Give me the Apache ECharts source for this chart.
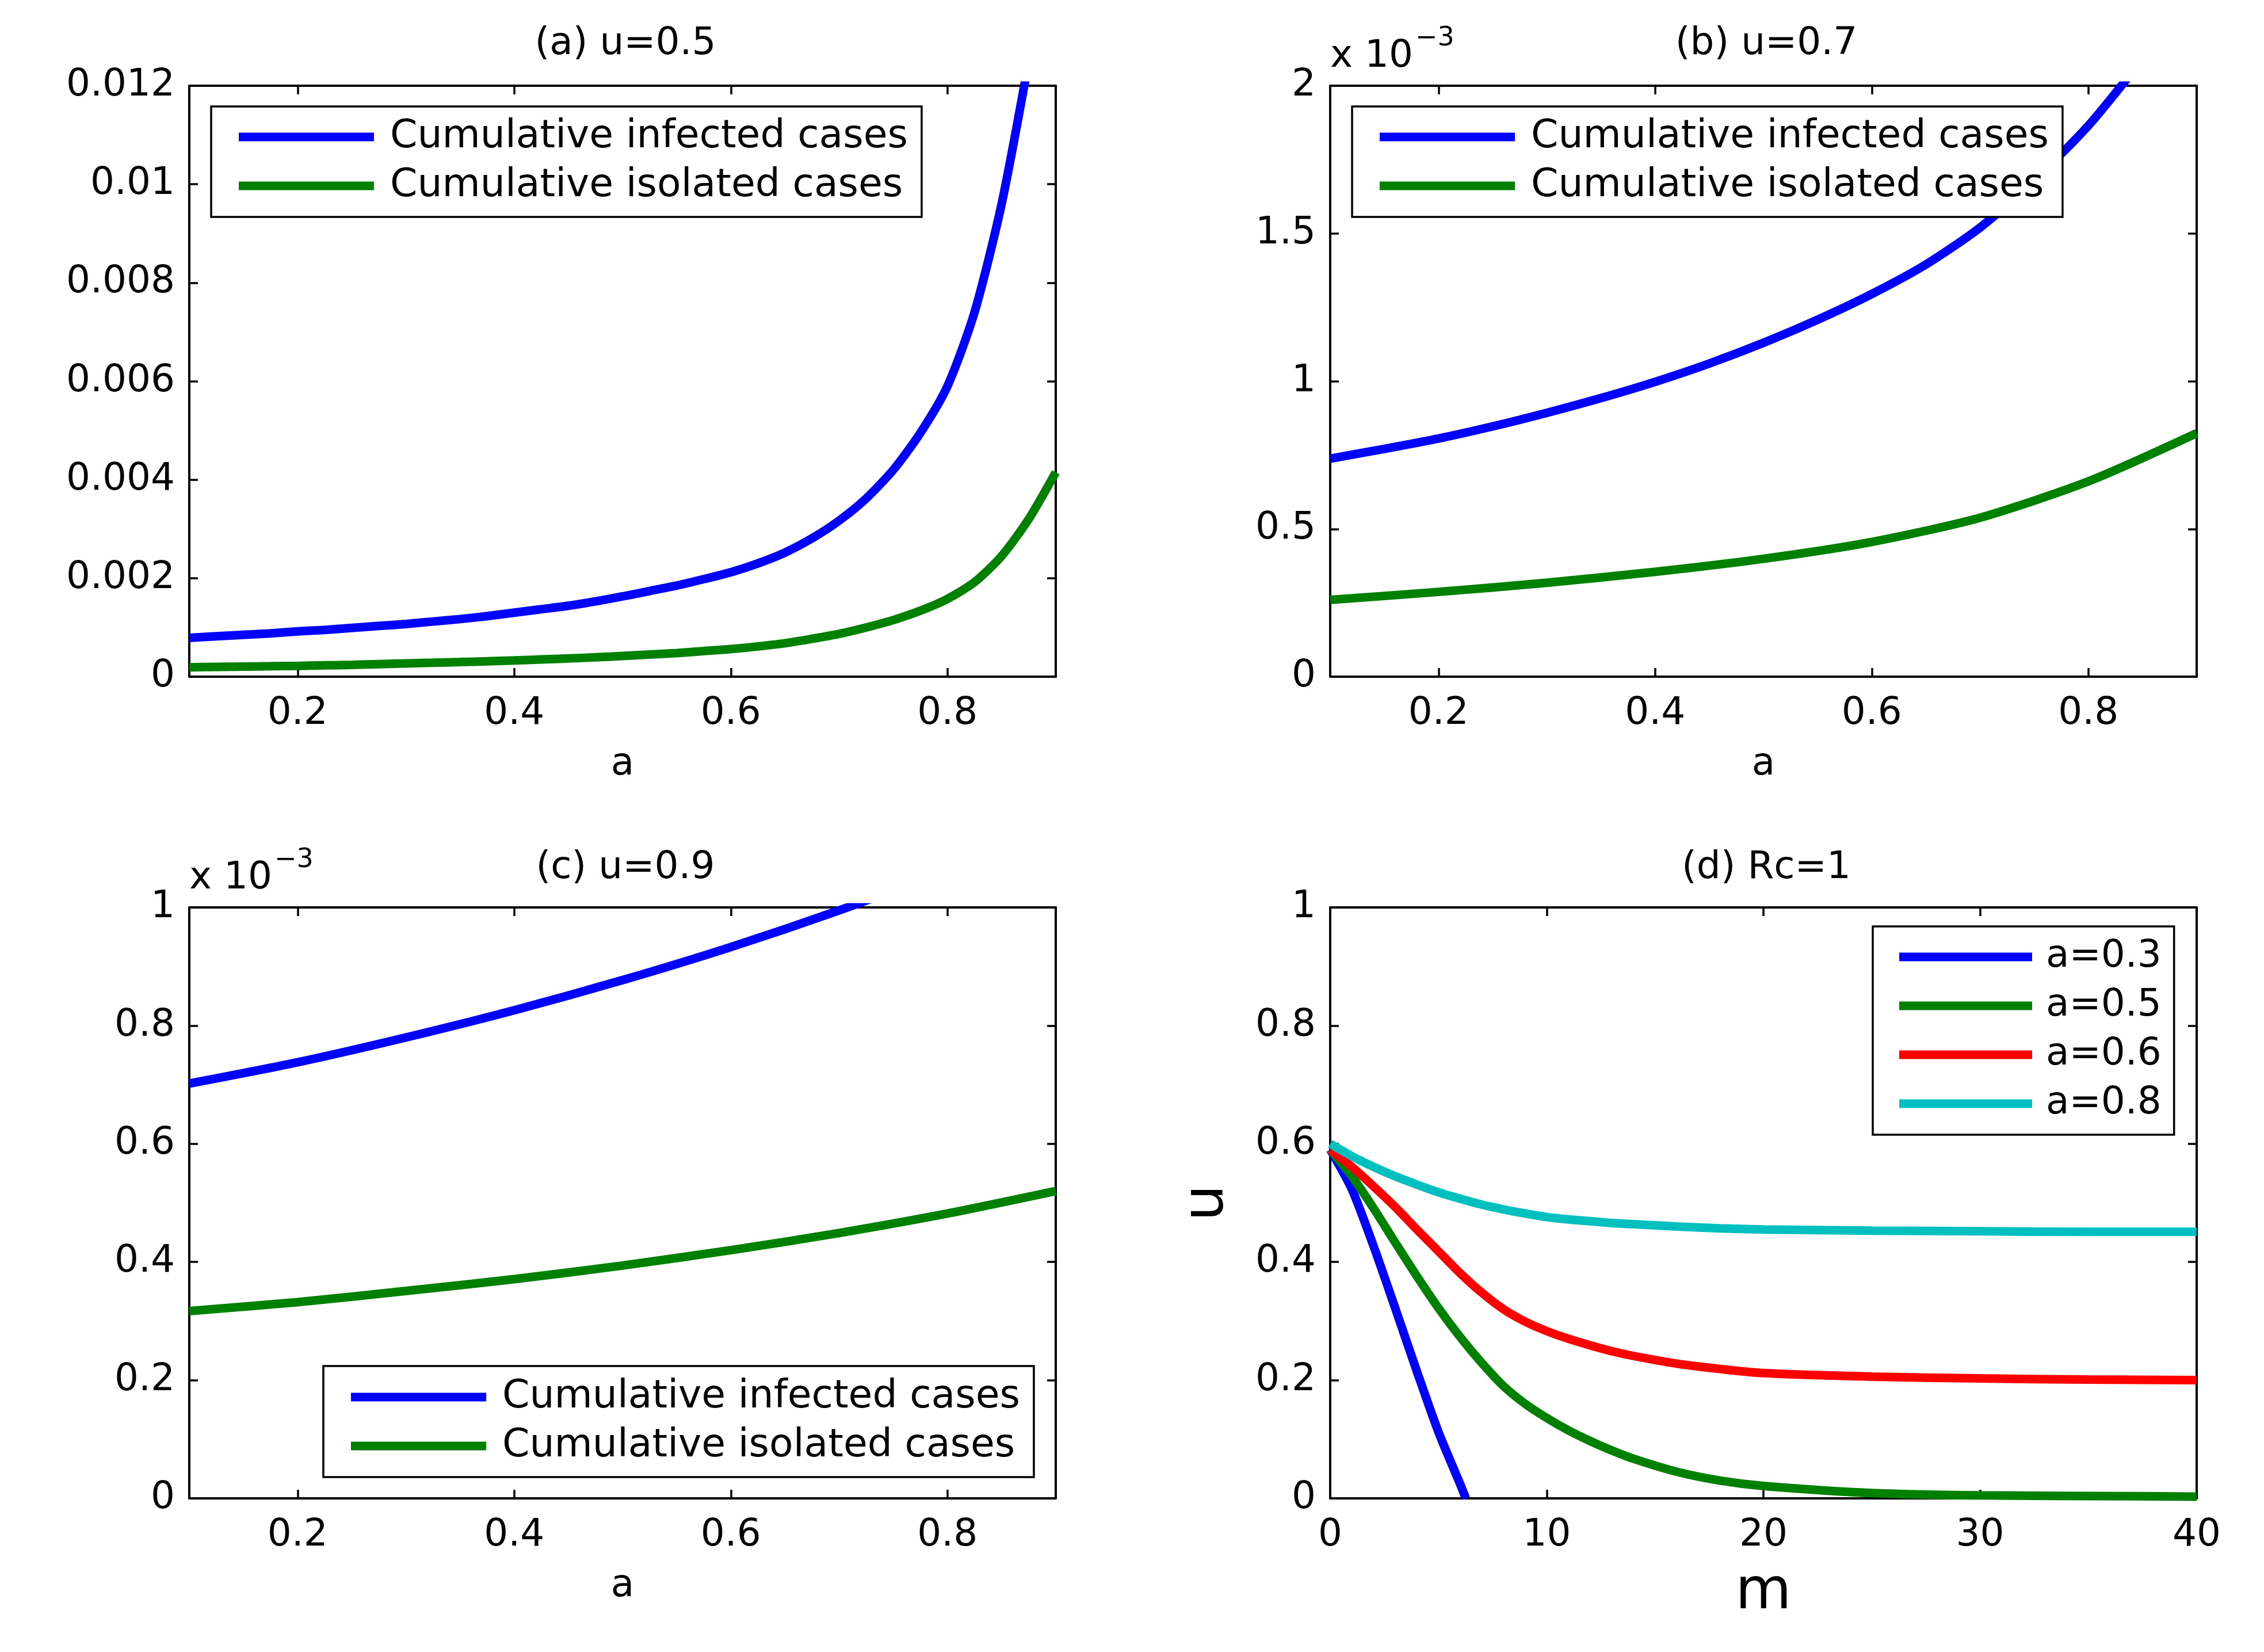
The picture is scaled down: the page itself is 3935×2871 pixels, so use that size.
<!DOCTYPE html>
<html>
<head>
<meta charset="utf-8">
<script src="https://cdn.jsdelivr.net/npm/echarts@6/dist/echarts.min.js"></script>
<style>html,body{margin:0;padding:0;background:#fff}#c{width:3935px;height:2871px}</style>
</head>
<body>
<div id="c"></div>
<script>
// ---------- data ----------
// (a) u=0.5
const aInfA = [0.100,0.125,0.150,0.175,0.200,0.225,0.250,0.275,0.300,0.325,0.350,0.375,0.400,0.425,0.450,0.475,0.500,0.525,0.550,0.575,0.600,0.625,0.650,0.675,0.700,0.725,0.750,0.775,0.800,0.825,0.850,0.875];
const infectedA = [0.00079,0.00082,0.00085,0.00088,0.00092,0.00095,0.00099,0.00103,0.00107,0.00112,0.00117,0.00123,0.00130,0.00137,0.00144,0.00153,0.00163,0.00174,0.00185,0.00198,0.00212,0.00230,0.00252,0.00281,0.00317,0.00362,0.00420,0.00495,0.00590,0.00740,0.00960,0.01250];
const aIsoA = [0.100,0.125,0.150,0.175,0.200,0.225,0.250,0.275,0.300,0.325,0.350,0.375,0.400,0.425,0.450,0.475,0.500,0.525,0.550,0.575,0.600,0.625,0.650,0.675,0.700,0.725,0.750,0.775,0.800,0.825,0.850,0.875,0.900];
const isolatedA = [0.000190,0.000198,0.000205,0.000212,0.000220,0.000230,0.000240,0.000255,0.000270,0.000283,0.000297,0.000313,0.000330,0.000350,0.000370,0.000393,0.000420,0.000450,0.000480,0.000520,0.000560,0.000615,0.000680,0.000770,0.000870,0.001000,0.001150,0.001340,0.001580,0.001920,0.002450,0.003200,0.004150];
// (b) u=0.7  (units of 1e-3)
const aInfB = [0.10,0.15,0.20,0.25,0.30,0.35,0.40,0.45,0.50,0.55,0.60,0.65,0.70,0.75,0.80,0.85];
const infectedB = [0.738,0.771,0.806,0.847,0.893,0.943,0.998,1.060,1.130,1.208,1.295,1.395,1.520,1.680,1.865,2.090];
const aIsoB = [0.10,0.20,0.30,0.40,0.50,0.60,0.70,0.80,0.90];
const isolatedB = [0.260,0.287,0.318,0.355,0.399,0.456,0.538,0.661,0.824];
// (c) u=0.9  (units of 1e-3)
const aInfC = [0.10,0.20,0.30,0.40,0.50,0.60,0.70,0.80];
const infectedC = [0.702,0.738,0.780,0.826,0.877,0.933,0.995,1.063];
const aIsoC = [0.10,0.20,0.30,0.40,0.50,0.60,0.70,0.80,0.90];
const isolatedC = [0.317,0.332,0.351,0.371,0.394,0.420,0.449,0.482,0.520];
// (d) Rc=1
const mA03 = [0,1,2,3,4,5,6,6.26];
const uA03 = [0.590,0.523,0.427,0.322,0.215,0.112,0.024,0.000];
const mGrid = [0,1,2,3,4,5,6,7,8,9,10,11,12,13,14,16,18,20,25,30,35,40];
const uA05 = [0.590,0.545,0.491,0.433,0.376,0.322,0.273,0.229,0.190,0.160,0.136,0.115,0.097,0.081,0.067,0.045,0.030,0.021,0.009,0.005,0.004,0.003];
const uA06 = [0.590,0.561,0.528,0.493,0.455,0.418,0.381,0.348,0.320,0.299,0.283,0.270,0.259,0.249,0.241,0.228,0.219,0.212,0.206,0.203,0.201,0.200];
const uA08 = [0.600,0.579,0.561,0.545,0.531,0.518,0.507,0.497,0.489,0.482,0.476,0.472,0.469,0.466,0.464,0.460,0.457,0.455,0.453,0.452,0.451,0.451];

const aTicks = [0.2,0.4,0.6,0.8];
const titles = ['(a) u=0.5','(b) u=0.7','(c) u=0.9','(d) Rc=1'];
const legendNamesAC = ['Cumulative infected cases','Cumulative isolated cases'];
const legendNamesD = ['a=0.3','a=0.5','a=0.6','a=0.8'];

// ---------- styling ----------
const FONT = 'DejaVu Sans';
const FS = 66;
const LW = 15;
const BLUE = '#0000ff', GREEN = '#008000', RED = '#ff0000', CYAN = '#00bfbf';
const grids = [
  {left:329, top:149, width:1506, height:1027},
  {left:2312, top:149, width:1506, height:1027},
  {left:329, top:1577, width:1506, height:1027},
  {left:2312, top:1577, width:1506, height:1027}
];
const fmt = v => String(+(+v).toFixed(6));
const lineStyleAxis = {show:true, onZero:false, lineStyle:{color:'#000', width:4}};
const tickStyle = {show:true, inside:true, length:15, lineStyle:{color:'#000', width:3.5}};

function xPair(gi, cfg) {
  const base = {gridIndex:gi, type:'value', min:cfg.min, max:cfg.max, axisLine:lineStyleAxis, splitLine:{show:false}};
  if (cfg.interval) base.interval = cfg.interval;
  const tick = Object.assign({}, tickStyle);
  const lab = {show:true, margin:32, color:'#000', fontFamily:FONT, fontSize:FS, formatter:fmt};
  if (cfg.custom) { tick.customValues = cfg.custom; lab.customValues = cfg.custom; }
  return [
    Object.assign({}, base, {position:'bottom', axisTick:tick, axisLabel:lab,
      name:cfg.name, nameLocation:'middle', nameGap:cfg.nameGap,
      nameTextStyle:{color:'#000', fontFamily:FONT, fontSize:cfg.nameSize}}),
    Object.assign({}, base, {position:'top', axisTick:tick, axisLabel:{show:false}})
  ];
}
function yPair(gi, cfg) {
  const base = {gridIndex:gi, type:'value', min:cfg.min, max:cfg.max, interval:cfg.interval, axisLine:lineStyleAxis, splitLine:{show:false}};
  const left = Object.assign({}, base, {position:'left', axisTick:tickStyle,
    axisLabel:{show:true, margin:25, color:'#000', fontFamily:FONT, fontSize:FS, formatter:fmt}});
  if (cfg.name) {
    left.name = cfg.name;
    left.nameLocation = cfg.nameLocation;
    left.nameGap = cfg.nameGap;
    left.nameTextStyle = cfg.nameTextStyle;
  }
  return [left, Object.assign({}, base, {position:'right', axisTick:tickStyle, axisLabel:{show:false}})];
}
const expName = {
  name:'{b|x 10}{sup|\u22123}', nameLocation:'end', nameGap:17,
  nameTextStyle:{align:'left', verticalAlign:'bottom', color:'#000', fontFamily:FONT,
    rich:{ b:{fontSize:FS, fontFamily:FONT, color:'#000', verticalAlign:'bottom', lineHeight:FS},
           sup:{fontSize:46, fontFamily:FONT, color:'#000', verticalAlign:'top', padding:[0,0,42,4]} }}
};

const xAxis = [].concat(
  xPair(0,{min:0.1,max:0.9,custom:aTicks,name:'a',nameSize:FS,nameGap:120}),
  xPair(1,{min:0.1,max:0.9,custom:aTicks,name:'a',nameSize:FS,nameGap:120}),
  xPair(2,{min:0.1,max:0.9,custom:aTicks,name:'a',nameSize:FS,nameGap:120}),
  xPair(3,{min:0,max:40,interval:10,name:'m',nameSize:100,nameGap:115})
);
const yAxis = [].concat(
  yPair(0,{min:0,max:0.012,interval:0.002}),
  yPair(1,Object.assign({min:0,max:2,interval:0.5}, expName)),
  yPair(2,Object.assign({min:0,max:1,interval:0.2}, expName)),
  yPair(3,{min:0,max:1,interval:0.2,name:'u',nameLocation:'middle',nameGap:163,
    nameTextStyle:{color:'#000', fontFamily:FONT, fontSize:100}})
);

function line(name, xs, ys, color, gi) {
  return {type:'line', name:name, xAxisIndex:gi*2, yAxisIndex:gi*2,
    data: xs.map((x,i)=>[x, ys[i]]), showSymbol:false, symbol:'none',
    smooth:0.25, clip:true,
    lineStyle:{color:color, width:LW}, itemStyle:{color:color}};
}
const series = [
  line(legendNamesAC[0], aInfA, infectedA, BLUE, 0),
  line(legendNamesAC[1], aIsoA, isolatedA, GREEN, 0),
  line(legendNamesAC[0], aInfB, infectedB, BLUE, 1),
  line(legendNamesAC[1], aIsoB, isolatedB, GREEN, 1),
  line(legendNamesAC[0], aInfC, infectedC, BLUE, 2),
  line(legendNamesAC[1], aIsoC, isolatedC, GREEN, 2),
  line(legendNamesD[0], mA03, uA03, BLUE, 3),
  line(legendNamesD[1], mGrid, uA05, GREEN, 3),
  line(legendNamesD[2], mGrid, uA06, RED, 3),
  line(legendNamesD[3], mGrid, uA08, CYAN, 3)
];

function legend(names, left, top, o) {
  return {show:true, orient:'vertical', left:left, top:top, data:names,
    icon:'rect', itemWidth:o.iw, itemHeight:LW, itemGap:o.gap,
    padding:o.p, borderColor:'#000', borderWidth:3.5, backgroundColor:'#fff',
    selectedMode:false,
    textStyle:{color:'#000', fontFamily:FONT, fontSize:o.fs, lineHeight:o.fs, padding:[0,0,0,o.tg]}};
}
const legends = [
  legend(legendNamesAC, 367, 185, {iw:235, gap:17, fs:68, p:[19,24,20,48], tg:23}),
  legend(legendNamesAC, 2350, 185, {iw:235, gap:17, fs:68, p:[19,24,20,48], tg:23}),
  legend(legendNamesAC, 562, 2374, {iw:235, gap:17, fs:68, p:[20,24,20,48], tg:23}),
  legend(legendNamesD, 3255, 1610, {iw:231, gap:19, fs:66, p:[20,22,21,46], tg:19})
];

const title = grids.map((g,i)=>({text:titles[i], left:g.left + g.width/2, top:i<2?39:1471, textAlign:'center',
  textStyle:{color:'#000', fontFamily:FONT, fontSize:FS, fontWeight:'normal'}}));

const chart = echarts.init(document.getElementById('c'), null, {renderer:'canvas', width:3935, height:2871});
chart.setOption({
  backgroundColor:'#fff', animation:false,
  title:title, grid:grids, xAxis:xAxis, yAxis:yAxis, legend:legends, series:series
});
</script>
</body>
</html>
